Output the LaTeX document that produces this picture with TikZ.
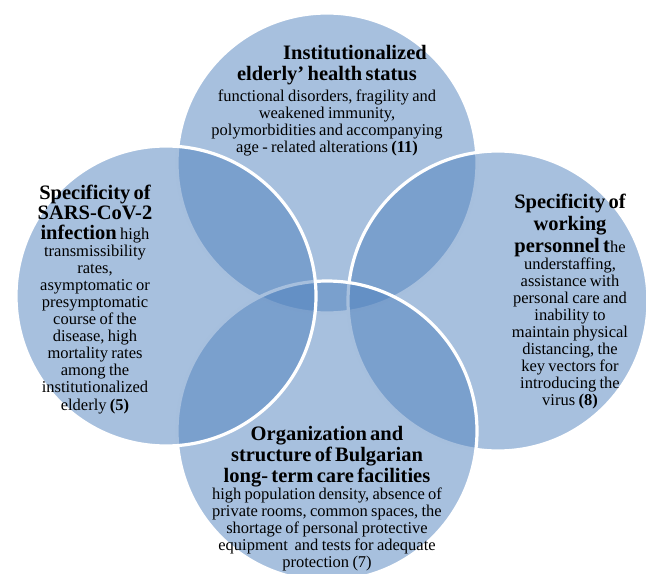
\documentclass[tikz,border=0pt]{standalone}
\usepackage{fontspec}
\setmainfont{Liberation Serif}
\definecolor{venn}{RGB}{79,129,189}
\newcommand\hdfont{\fontsize{20.5bp}{21bp}\selectfont\bfseries}
\newcommand\bdfont{\fontsize{16.5bp}{17.1bp}\selectfont\mdseries}
\begin{document}
\begin{tikzpicture}[x=1bp,y=-1bp,
  venncircle/.style={fill=venn, fill opacity=0.5, draw=white, line width=3.2bp},
  vtext/.style={anchor=base, inner sep=0pt, align=center, text=black}]
\useasboundingbox (0,0) rectangle (646,574);
\clip (0,0) rectangle (646,574);

% four translucent circles, drawn clockwise from the top
\draw[venncircle] (327,163) circle[radius=150];
\draw[venncircle] (498,301) circle[radius=150];
\draw[venncircle] (327,431) circle[radius=150];
\draw[venncircle] (166,296) circle[radius=150];

% texts of the circles
\node[vtext, text width=300bp] (ttop) at (327,60)
  {\hdfont\hspace*{56bp}Institutionalized\\
   elderly’ health status\par\vspace{3.5bp}
   \bdfont functional disorders, fragility and\\
   weakened immunity,\\
   polymorbidities and accompanying\\
   age - related alterations \textbf{(11)}\par};

\node[vtext, text width=180bp] (tleft) at (95,199)
  {\hdfont\fontsize{20.5bp}{20bp}\selectfont Specificity of\\
   SARS-CoV-2\\
   infection {\bdfont high}\par
   \bdfont transmissibility\\
   rates,\\
   asymptomatic or\\
   presymptomatic\\
   course of the\\
   disease, high\\
   mortality rates\\
   among the\\
   institutionalized\\
   elderly \textbf{(5)}\par};

\node[vtext, text width=180bp] (tright) at (570,208)
  {\hdfont\fontsize{20.5bp}{22bp}\selectfont Specificity of\\
   working\\
   personnel t{\bdfont he}\par
   \bdfont understaffing,\\
   assistance with\\
   personal care and\\
   inability to\\
   maintain physical\\
   distancing, the\\
   key vectors for\\
   introducing the\\
   virus \textbf{(8)}\par};

\node[vtext, text width=300bp] (tbottom) at (327,440)
  {\hdfont Organization and\\
   structure of Bulgarian\\
   long- term care facilities\par
   \bdfont high population density, absence of\\
   private rooms, common spaces, the\\
   shortage of personal protective\\
   equipment\ \ and tests for adequate\\
   protection (7)\par};
\end{tikzpicture}
\end{document}
